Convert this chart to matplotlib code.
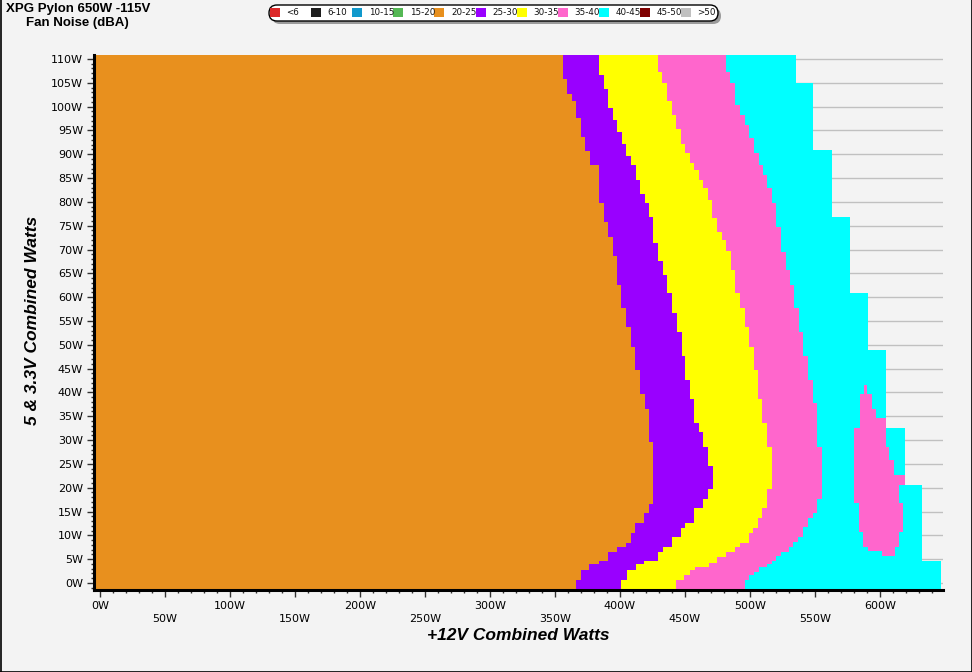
import numpy as np
import matplotlib
matplotlib.use("Agg")
import matplotlib.pyplot as plt
from matplotlib.patches import FancyBboxPatch, Rectangle
from matplotlib.transforms import IdentityTransform
from matplotlib.ticker import MultipleLocator

# ---------------- data (W) ----------------
title_lines = ["XPG Pylon 650W -115V", "Fan Noise (dBA)"]
legend_labels = ["<6", "6-10", "10-15", "15-20", "20-25", "25-30", "30-35", "35-40", "40-45", "45-50", ">50"]
legend_colors = ["#DC2828", "#1E1E1E", "#1199CC", "#55B855", "#E8901E", "#9900FF",
                 "#FFFF00", "#FF66CC", "#00FFFF", "#7F0000", "#C0C0C0"]

# boundary 20-25 -> 25-30 (orange / purple): y edges and +12V watts per band
op_y = [-1.47, 0.63, 2.73, 3.99, 4.62, 6.51, 7.56, 8.40, 10.50, 12.59, 14.69, 16.58, 29.60,
        36.52, 39.67, 44.71, 49.54, 53.74, 57.72, 62.55, 68.64, 72.63, 75.78, 79.76, 87.74,
        90.68, 93.62, 97.61, 101.18, 102.64, 105.79, 110.83]
op_x = [366.2, 370.0, 376.2, 383.8, 391.0, 397.9, 404.6, 408.5, 411.8, 418.7, 422.5, 425.6,
        422.5, 419.2, 415.4, 411.8, 408.2, 404.6, 400.8, 397.9, 394.4, 391.0, 387.7, 383.8,
        376.9, 373.1, 369.8, 366.2, 362.8, 359.0, 355.9]

# boundary 25-30 -> 30-35 (purple / yellow)
py_y = [-1.47, 0.63, 2.73, 3.99, 4.62, 6.51, 7.56, 9.66, 11.55, 12.59, 15.74, 17.63, 19.73,
        24.56, 28.55, 31.70, 33.59, 38.62, 42.61, 47.65, 52.69, 56.68, 60.87, 64.65, 67.59,
        71.37, 76.83, 79.76, 81.65, 84.59, 87.74, 89.63, 92.15, 94.67, 97.19, 99.71, 103.69,
        106.63, 110.83]
py_x = [400.8, 405.4, 412.3, 418.7, 429.0, 432.8, 440.2, 446.9, 450.2, 457.2, 464.1, 467.9,
        471.3, 467.5, 464.1, 461.0, 456.9, 453.8, 450.2, 447.5, 443.6, 440.2, 436.4, 432.8,
        429.5, 425.6, 422.5, 419.5, 415.4, 412.1, 408.2, 404.6, 401.3, 397.9, 394.8, 391.0,
        387.7, 383.8]

# boundary 30-35 -> 35-40 (yellow / pink)
yp_y = [-1.47, 0.63, 1.68, 2.73, 3.36, 4.20, 5.46, 6.51, 7.56, 8.40, 10.50, 11.55, 13.64,
        15.74, 19.73, 28.55, 33.59, 38.62, 44.71, 49.54, 53.74, 57.72, 60.87, 65.70, 69.69,
        72.00, 73.68, 76.62, 80.39, 82.91, 84.59, 86.69, 88.16, 90.26, 92.15, 95.30, 98.24,
        101.18, 104.96, 107.27, 110.83]
yp_x = [443.1, 449.2, 453.8, 457.7, 468.2, 474.4, 481.5, 488.5, 492.3, 499.2, 502.5, 505.9,
        509.5, 512.8, 516.7, 513.3, 509.5, 506.4, 503.3, 499.5, 495.9, 492.3, 488.7, 485.2,
        481.5, 478.5, 474.8, 470.9, 467.5, 464.1, 460.5, 456.9, 453.8, 450.2, 446.7, 443.1,
        439.8, 435.9, 432.3, 429.5]

# boundary 35-40 -> 40-45 (pink / cyan)
pc_y = [-1.47, 0.63, 1.68, 2.31, 3.36, 3.99, 4.62, 5.67, 6.51, 7.56, 8.61, 9.66, 11.75,
        13.64, 14.69, 17.63, 28.55, 37.78, 42.61, 47.65, 52.69, 57.72, 62.55, 65.70, 69.48,
        74.73, 79.76, 82.91, 85.64, 87.74, 90.26, 93.41, 96.14, 98.24, 100.34, 104.96, 107.27,
        110.83]
pc_x = [496.2, 499.5, 503.1, 506.9, 513.3, 516.7, 520.0, 523.6, 530.2, 533.3, 537.2, 541.0,
        544.8, 548.7, 551.3, 555.2, 551.3, 548.2, 544.4, 541.0, 537.7, 533.8, 530.8, 527.5,
        523.6, 520.0, 516.9, 512.8, 509.8, 506.7, 503.1, 499.5, 495.9, 492.3, 488.5, 484.6,
        481.5]

# end of measured area (40-45 region right edge)
ce_y = [-1.47, 4.62, 20.57, 32.54, 48.91, 60.87, 76.83, 90.89, 104.96, 110.83]
ce_x = [646.9, 632.1, 619.2, 604.4, 590.8, 576.9, 563.1, 548.5, 535.4]

# 35-40 island inside the 40-45 region
isl_y = [5.67, 6.72, 7.56, 10.71, 16.79, 20.57, 22.67, 25.82, 28.55, 32.54, 34.64, 36.52,
         39.67, 41.56]
isl_left = [601.5, 590.8, 586.9, 583.8, 580.0, 580.0, 580.0, 580.0, 580.0, 584.6, 584.6,
            584.6, 587.7]
isl_right = [611.5, 611.5, 614.6, 617.7, 614.6, 619.2, 610.8, 606.9, 604.4, 604.4, 596.9,
             593.8, 590.0]

x_ticks = list(range(0, 601, 50))
y_ticks = list(range(0, 111, 5))

# ---------------- figure ----------------
W, H = 972, 672
BG = "#F3F3F3"
fig = plt.figure(figsize=(W / 100, H / 100), dpi=100, facecolor=BG)
ax = fig.add_axes([94 / W, (H - 590) / H, (943 - 94) / W, (590 - 55) / H])
ax.set_facecolor(BG)

XMIN, XMAX = -4.6, 648.5
YMIN, YMAX = -1.47, 110.83
ax.set_xlim(XMIN, XMAX)
ax.set_ylim(YMIN, YMAX)


def band(yedges, xvals, color, left=None):
    y = np.asarray(yedges)
    x2 = np.append(xvals, xvals[-1])
    if left is None:
        x1 = np.full_like(x2, XMIN)
    else:
        x1 = np.append(left, left[-1])
    ax.fill_betweenx(y, x1, x2, step="post", color=color, lw=0, zorder=2)


band(ce_y, ce_x, legend_colors[8])
band(pc_y, pc_x, legend_colors[7])
band(yp_y, yp_x, legend_colors[6])
band(py_y, py_x, legend_colors[5])
band(op_y, op_x, legend_colors[4])
band(isl_y, isl_right, legend_colors[7], left=isl_left)

# grid
ax.set_axisbelow(True)
ax.yaxis.grid(True, color="#C0C0C0", lw=1.0, zorder=0)
ax.xaxis.grid(False)

for s in ["top", "right"]:
    ax.spines[s].set_visible(False)
for s in ["left", "bottom"]:
    ax.spines[s].set_linewidth(2.2)
    ax.spines[s].set_color("black")
    ax.spines[s].set_zorder(5)

ax.set_xticks(x_ticks)
ax.set_xticklabels([("%dW" % v) if (v // 50) % 2 == 0 else ("\n%dW" % v) for v in x_ticks],
                   fontsize=8, family="DejaVu Sans", linespacing=1.3)
ax.xaxis.set_minor_locator(MultipleLocator(10))
ax.set_yticks(y_ticks)
ax.set_yticklabels(["%dW" % v for v in y_ticks], fontsize=8, family="DejaVu Sans")
ax.yaxis.set_minor_locator(MultipleLocator(1))
ax.tick_params(axis="both", which="major", length=5, width=1, color="#333333", pad=3)
ax.tick_params(axis="both", which="minor", length=2.5, width=1, color="#333333")

fig.text(518 / W, 1 - 635 / H, "+12V Combined Watts", ha="center", va="center",
         fontsize=12.5, fontweight="bold", fontstyle="italic", family="Liberation Sans")
fig.text(33 / W, 1 - 320 / H, "5 & 3.3V Combined Watts", ha="center", va="center",
         rotation=90, fontsize=12.5, fontweight="bold", fontstyle="italic",
         family="Liberation Sans")

# titles
idt = IdentityTransform()
fig.text(6, H - 12, title_lines[0], transform=idt, ha="left", va="baseline",
         fontsize=9.5, fontweight="bold", family="Liberation Sans")
fig.text(26.5, H - 26, title_lines[1], transform=idt, ha="left", va="baseline",
         fontsize=9.5, fontweight="bold", family="Liberation Sans")

# legend box with shadow
lx0, lx1, ly0, ly1 = 271, 716, 7, 19
shadow = FancyBboxPatch((lx0 + 3, H - ly1 - 3), lx1 - lx0, ly1 - ly0,
                        boxstyle="round,pad=2,rounding_size=8", transform=idt,
                        facecolor="#9A9A9A", edgecolor="none")
box = FancyBboxPatch((lx0, H - ly1), lx1 - lx0, ly1 - ly0,
                     boxstyle="round,pad=2,rounding_size=8", transform=idt,
                     facecolor="white", edgecolor="black", lw=1)
fig.add_artist(shadow)
fig.add_artist(box)
for i, (lab, col) in enumerate(zip(legend_labels, legend_colors)):
    sx = 270 + 41.1 * i
    fig.add_artist(Rectangle((sx, H - 17), 10, 9, transform=idt, facecolor=col,
                             edgecolor="none"))
    fig.text(sx + 16.5, H - 12.5, lab, transform=idt, ha="left", va="center",
             fontsize=6.3, family="DejaVu Sans", color="#111111")

# outer border
for (xa, ya, xb, yb) in [(0.5, 0, 0.5, H), (W - 0.5, 0, W - 0.5, H), (0, 0.5, W, 0.5)]:
    fig.add_artist(plt.Line2D([xa, xb], [ya, yb], transform=idt, color="black", lw=1.2))

fig.savefig("out.png", dpi=100, facecolor=BG)
